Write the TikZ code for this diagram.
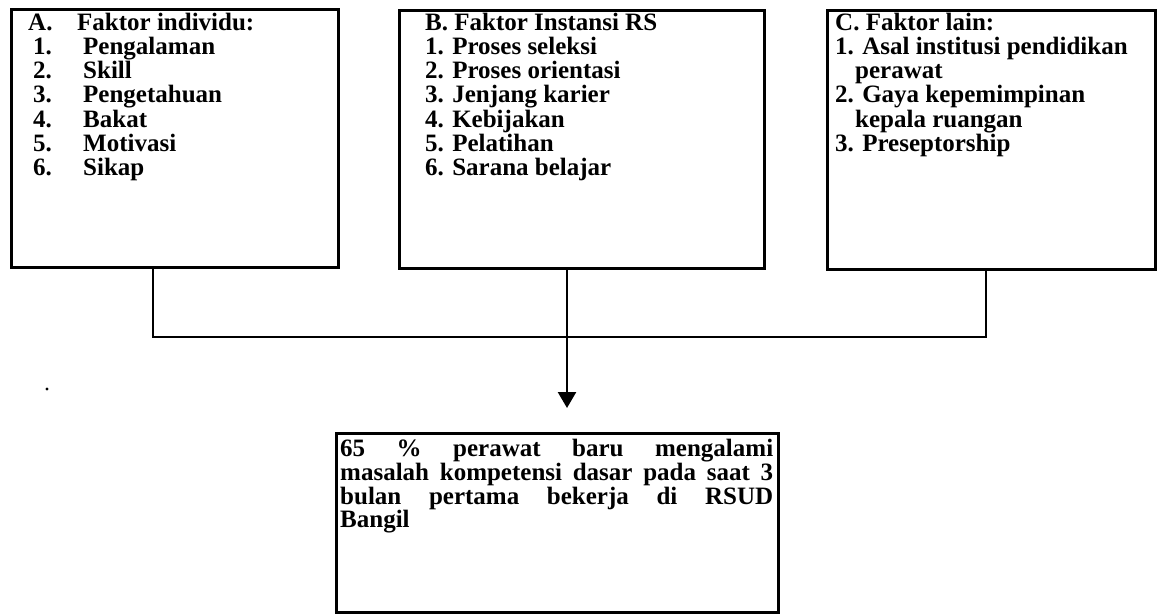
\documentclass[tikz,border=0pt]{standalone}
\usepackage{fontspec}
\setmainfont{Liberation Serif}
\usetikzlibrary{arrows.meta}
\begin{document}
\begin{tikzpicture}[x=1pt,y=-1pt,
  frame/.style={draw, line width=2.5pt, inner sep=0pt, anchor=north west},
  list/.style={anchor=north west, inner sep=0pt, align=left,
    font=\bfseries\fontsize{25}{24.3}\selectfont},
  link/.style={line width=2.5pt},
]
\useasboundingbox (0,0) rectangle (1161,613);

% factor boxes
\node[frame, minimum width=327pt, minimum height=258pt] (A) at (10,8) {};
\node[frame, minimum width=365pt, minimum height=258pt] (B) at (398,9) {};
\node[frame, minimum width=328pt, minimum height=259pt] (C) at (826,9) {};
% outcome box
\node[frame, minimum width=442pt, minimum height=179pt] (D) at (335,432) {};

% box contents
\node[list] (tA) at (28,12.5) {%
  \makebox[49pt][l]{A.}Faktor individu:\\
  \hspace*{5pt}\makebox[50pt][l]{1.}Pengalaman\\
  \hspace*{5pt}\makebox[50pt][l]{2.}Skill\\
  \hspace*{5pt}\makebox[50pt][l]{3.}Pengetahuan\\
  \hspace*{5pt}\makebox[50pt][l]{4.}Bakat\\
  \hspace*{5pt}\makebox[50pt][l]{5.}Motivasi\\
  \hspace*{5pt}\makebox[50pt][l]{6.}Sikap};

\node[list] (tB) at (425,12.5) {%
  B. Faktor Instansi RS\\
  1. Proses seleksi\\
  2. Proses orientasi\\
  3. Jenjang karier\\
  4. Kebijakan\\
  5. Pelatihan\\
  6. Sarana belajar};

\node[list] (tC) at (835,12.5) {%
  C. Faktor lain:\\
  1. Asal institusi pendidikan\\
  \hspace*{20pt}perawat\\
  2. Gaya kepemimpinan\\
  \hspace*{20pt}kepala ruangan\\
  3. Preseptorship};

\node[anchor=north west, inner sep=0pt, text width=433pt, align=justify,
  font=\bfseries\fontsize{25}{22.5}\selectfont] (tD) at (340,439) {%
  65 \% perawat baru mengalami\linebreak
  masalah kompetensi dasar pada saat 3\linebreak
  bulan pertama bekerja di RSUD\linebreak
  Bangil};

% stray mark
\fill (47,389) circle (1.6pt);

% connectors
\coordinate (jA) at (153,337);
\coordinate (jC) at (986,337);
\coordinate (tip) at (567,408);
\draw[link] (A.south -| jA) -- (jA) -- (jC) -- (C.south -| jC);
\draw[link, -{Triangle[width=18pt,length=16pt]}] (B.south -| tip) -- (tip);
\end{tikzpicture}
\end{document}
